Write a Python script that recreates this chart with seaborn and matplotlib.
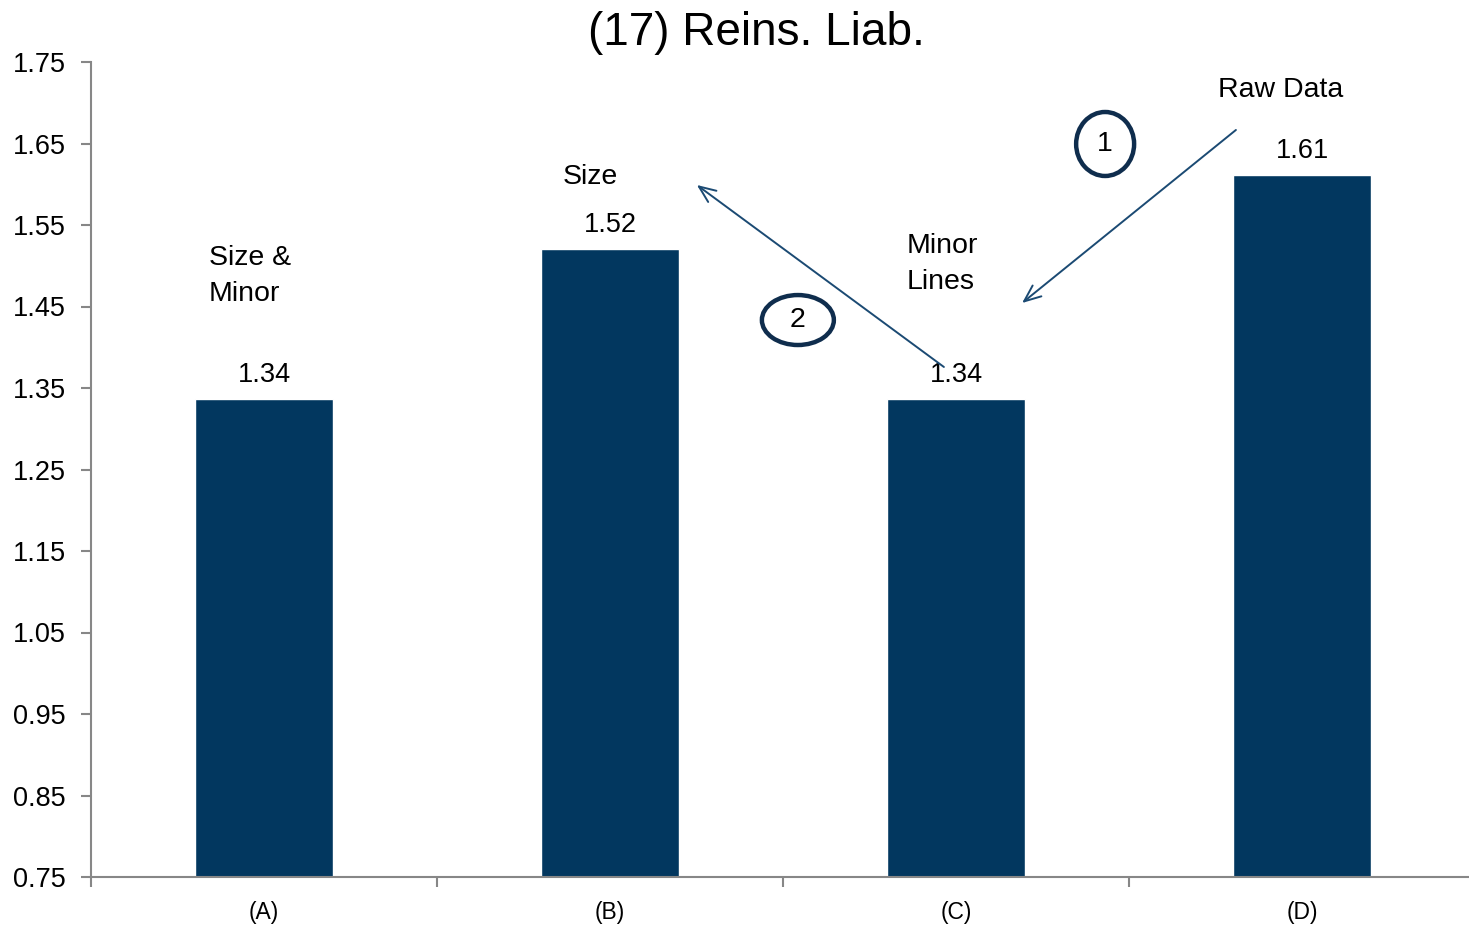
import matplotlib
matplotlib.use("Agg")
import matplotlib.pyplot as plt
from matplotlib.patches import Ellipse
import seaborn as sns
import pandas as pd

categories = ["(A)", "(B)", "(C)", "(D)"]
values = [1.336, 1.521, 1.336, 1.611]
y_ticks = [0.75, 0.85, 0.95, 1.05, 1.15, 1.25, 1.35, 1.45, 1.55, 1.65, 1.75]
title = "(17) Reins. Liab."

bar_color = "#02375f"
spine_color = "#878787"
arrow_color = "#1b4a73"
ring_color = "#0f2d4d"

sns.set_style("white")
plt.rcParams["font.family"] = ["Liberation Sans", "DejaVu Sans"]
plt.rcParams["text.color"] = "black"
plt.rcParams["xtick.color"] = "black"
plt.rcParams["ytick.color"] = "black"

fig = plt.figure(figsize=(14.69, 9.25), dpi=100)
ax = fig.add_axes([91 / 1469, 48 / 925, 1384 / 1469, 815 / 925])

df = pd.DataFrame({"cat": categories, "val": values})
sns.barplot(data=df, x="cat", y="val", color=bar_color, saturation=1,
            width=0.4, ax=ax)

ax.set_xlim(-0.5, 3.5)
ax.set_ylim(0.75, 1.75)
ax.set_yticks(y_ticks)
ax.set_yticklabels([f"{t:.2f}" for t in y_ticks], fontsize=19.5)
ax.set_xlabel("")
ax.set_ylabel("")

# category labels without marks; boundary marks as minor ticks
ax.tick_params(axis="x", which="major", length=0, labelsize=16.5, pad=17,
               labelcolor="black")
ax.set_xticks([-0.5, 0.5, 1.5, 2.5, 3.5], minor=True)
ax.tick_params(axis="x", which="minor", bottom=True, length=7, width=1.5,
               color=spine_color, direction="out")
ax.tick_params(axis="y", length=7, width=1.5, color=spine_color,
               direction="out", left=True, pad=11, labelcolor="black")

sns.despine(ax=ax)
for side in ("left", "bottom"):
    ax.spines[side].set_color(spine_color)
    ax.spines[side].set_linewidth(1.5)

for cont in ax.containers:
    ax.bar_label(cont, fmt="%.2f", fontsize=19.5, padding=8, color="black")

ax.set_title(title, fontsize=33, pad=12, color="black")
ax.title.set_position((0.481, 1.0))

# annotation text
ax.text(-0.159, 1.487, "Size &\nMinor", fontsize=20.5, ha="left", va="center",
        linespacing=1.5)
ax.text(0.942, 1.609, "Size", fontsize=20.5, ha="center", va="center")
ax.text(1.858, 1.502, "Minor\nLines", fontsize=20.5, ha="left", va="center",
        linespacing=1.5)
ax.text(2.939, 1.716, "Raw Data", fontsize=20.5, ha="center", va="center")

# step arrows
ax.annotate("", xy=(2.191, 1.4543), xytext=(2.809, 1.6666),
            arrowprops=dict(arrowstyle="->,head_length=1.2,head_width=0.5",
                            color=arrow_color, lw=1.4,
                            shrinkA=0, shrinkB=0))
ax.annotate("", xy=(1.251, 1.5991), xytext=(1.965, 1.3758),
            arrowprops=dict(arrowstyle="->,head_length=1.2,head_width=0.5",
                            color=arrow_color, lw=1.4,
                            shrinkA=0, shrinkB=0))

# numbered rings
ax.add_patch(Ellipse((2.431, 1.6494), 0.1676, 0.0785, fill=False,
                     edgecolor=ring_color, lw=3.2))
ax.text(2.431, 1.6494, "1", fontsize=20.5, ha="center", va="center")
ax.add_patch(Ellipse((1.543, 1.4334), 0.208, 0.0613, fill=False,
                     edgecolor=ring_color, lw=3.2))
ax.text(1.543, 1.4334, "2", fontsize=20.5, ha="center", va="center")

fig.savefig("out.png", dpi=100)
